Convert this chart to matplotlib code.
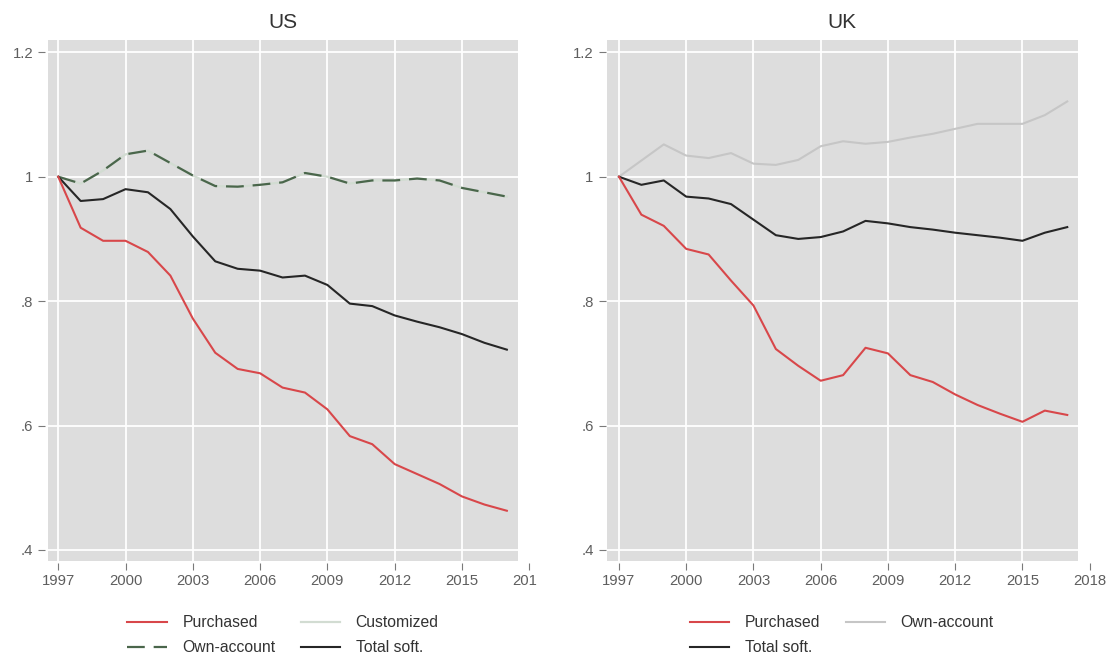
import matplotlib.pyplot as plt
from matplotlib.patches import Rectangle
from matplotlib.transforms import Bbox, TransformedBbox

plt.rcParams['font.family'] = ['Liberation Sans', 'DejaVu Sans']

years = list(range(1997, 2018))
year_ticks = [1997, 2000, 2003, 2006, 2009, 2012, 2015, 2018]
y_ticks = [0.4, 0.6, 0.8, 1.0, 1.2]
y_tick_labels = [".4", ".6", ".8", "1", "1.2"]

# US series (index, 1997 = 1)
us_purchased = [1.0, 0.918, 0.897, 0.897, 0.879, 0.841, 0.772, 0.717, 0.691, 0.684, 0.661,
                0.653, 0.626, 0.583, 0.570, 0.538, 0.522, 0.506, 0.486, 0.473, 0.463]
us_own = [1.0, 0.989, 1.010, 1.036, 1.042, 1.022, 1.002, 0.985, 0.984, 0.987, 0.991,
          1.006, 1.000, 0.989, 0.994, 0.994, 0.997, 0.994, 0.982, 0.975, 0.968]
us_custom = [1.0, 0.989, 1.010, 1.036, 1.042, 1.022, 1.002, 0.985, 0.984, 0.987, 0.991,
             1.006, 1.000, 0.989, 0.994, 0.994, 0.997, 0.994, 0.982, 0.975, 0.968]
us_total = [1.0, 0.961, 0.964, 0.980, 0.975, 0.948, 0.904, 0.864, 0.852, 0.849, 0.838,
            0.841, 0.826, 0.796, 0.792, 0.777, 0.767, 0.758, 0.747, 0.733, 0.722]

# UK series
uk_purchased = [1.0, 0.939, 0.921, 0.884, 0.875, 0.833, 0.793, 0.723, 0.696, 0.672, 0.681,
                0.725, 0.716, 0.681, 0.670, 0.650, 0.633, 0.619, 0.606, 0.624, 0.617]
uk_own = [1.0, 1.026, 1.052, 1.034, 1.030, 1.038, 1.021, 1.019, 1.027, 1.049, 1.057,
          1.053, 1.056, 1.063, 1.069, 1.077, 1.085, 1.085, 1.085, 1.099, 1.121]
uk_total = [1.0, 0.987, 0.994, 0.968, 0.965, 0.956, 0.931, 0.906, 0.900, 0.903, 0.912,
            0.929, 0.925, 0.919, 0.915, 0.910, 0.906, 0.902, 0.897, 0.910, 0.919]

RED = '#d8474a'
BLACK = '#262626'
GREEN = '#4a664b'
PALE = '#d2dcd2'
LIGHT = '#c6c6c6'
BG = '#dddddd'

W, H = 1113, 660
fig = plt.figure(figsize=(W / 100, H / 100), dpi=100)


def add_panel(x0, x1, y0, y1, xlim, ylim, gray_x):
    ax = fig.add_axes([x0 / W, 1 - y1 / H, (x1 - x0) / W, (y1 - y0) / H])
    ax.set_facecolor('white')
    ax.set_xlim(*xlim)
    ax.set_ylim(*ylim)
    ax.add_patch(Rectangle((gray_x[0], 0.382), gray_x[1] - gray_x[0], ylim[1] - 0.382,
                           facecolor=BG, edgecolor='none', zorder=0.2))
    ax.set_axisbelow(True)
    ax.grid(True, color='white', linewidth=1.3)
    for s in ax.spines.values():
        s.set_visible(False)
    ax.set_xticks(year_ticks, [str(y) for y in year_ticks])
    ax.set_yticks(y_ticks, y_tick_labels)
    ax.tick_params(axis='both', length=5, width=0.8, color='#7a7a7a',
                   labelcolor='#5e5e5e', labelsize=10.7)
    ax.tick_params(axis='x', pad=3)
    ax.tick_params(axis='y', pad=3.6)
    return ax


ax_us = add_panel(45, 536, 40, 563, (1996.41, 2018.3), (0.379, 1.2198), (1996.53, 2017.51))
ax_uk = add_panel(605.5, 1099.75, 40, 563, (1996.40, 2018.45), (0.379, 1.2198), (1996.45, 2017.49))

# US lines
l_cu, = ax_us.plot(years, us_custom, color=PALE, linewidth=1.6, label='Customized')
l_ow, = ax_us.plot(years, us_own, color=GREEN, linewidth=1.6, linestyle=(0, (8, 4)),
                   label='Own-account')
l_to, = ax_us.plot(years, us_total, color=BLACK, linewidth=1.5, label='Total soft.')
l_pu, = ax_us.plot(years, us_purchased, color=RED, linewidth=1.5, label='Purchased')

# UK lines
k_ow, = ax_uk.plot(years, uk_own, color=LIGHT, linewidth=1.5, label='Own-account')
k_to, = ax_uk.plot(years, uk_total, color=BLACK, linewidth=1.5, label='Total soft.')
k_pu, = ax_uk.plot(years, uk_purchased, color=RED, linewidth=1.5, label='Purchased')

# last US tick label runs into the panel edge
clip = TransformedBbox(Bbox.from_extents(0, 0, 537 / W, 1), fig.transFigure)
lab = ax_us.get_xticklabels()[-1]
lab.set_clip_box(clip)
lab.set_clip_on(True)

leg_kw = dict(loc='upper center', bbox_transform=fig.transFigure, ncol=2, frameon=False,
              fontsize=11.3, handlelength=2.5, handletextpad=1.0, columnspacing=1.6,
              labelspacing=0.65, borderpad=0, borderaxespad=0, labelcolor='#333333')
ax_us.legend([l_pu, l_ow, l_cu, l_to], ['Purchased', 'Own-account', 'Customized', 'Total soft.'],
             bbox_to_anchor=(283 / W, 1 - 615 / H), **leg_kw)
ax_uk.legend([k_pu, k_to, k_ow], ['Purchased', 'Total soft.', 'Own-account'],
             bbox_to_anchor=(842 / W, 1 - 615 / H), **leg_kw)

fig.text(283 / W, 1 - 23 / H, 'US', ha='center', va='center', fontsize=15, color='#333333')
fig.text(842 / W, 1 - 23 / H, 'UK', ha='center', va='center', fontsize=15, color='#333333')

fig.savefig('out.png', dpi=100)
